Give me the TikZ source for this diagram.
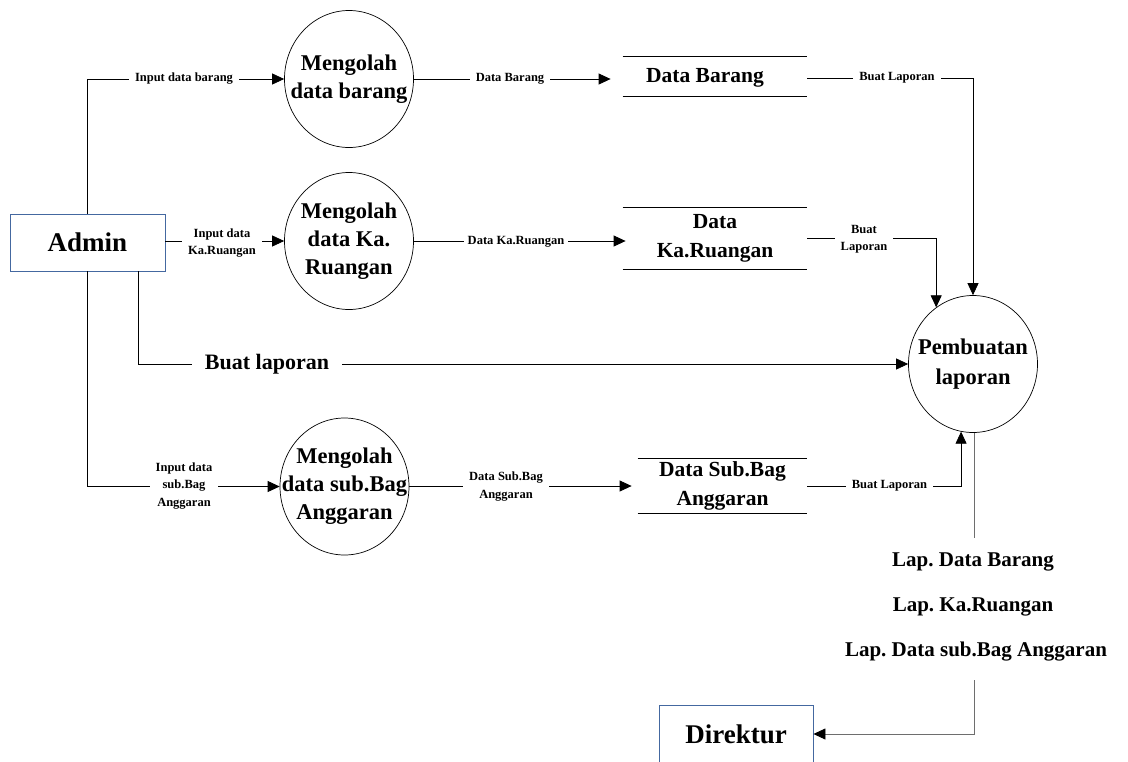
\documentclass[tikz,border=0pt]{standalone}
\usepackage{fontspec}
\setmainfont{Liberation Serif}
\usetikzlibrary{arrows.meta,shapes.geometric,calc}
\definecolor{boxblue}{RGB}{68,104,160}
\definecolor{lineg}{RGB}{110,110,110}
\frenchspacing
\begin{document}
\begin{tikzpicture}[x=1pt,y=-1pt,
  line width=0.8pt,
  flow/.style={draw=black,line width=0.8pt,-{Triangle[length=12pt,width=11pt,color=black]}},
  plain/.style={draw=black,line width=0.8pt},
  entity/.style={draw=boxblue,line width=0.9pt,minimum width=155pt,minimum height=57pt,inner sep=0pt,font=\fontsize{27}{30}\selectfont\bfseries},
  proc/.style={draw=black,line width=0.7pt,ellipse,minimum width=129pt,minimum height=137pt,inner sep=0pt},
  proctext/.style={align=center,inner sep=0pt,font=\fontsize{22.5}{28}\selectfont\bfseries},
  store/.style={inner sep=0pt,align=center,minimum width=184pt,font=\fontsize{21.5}{29}\selectfont\bfseries},
  lbl/.style={fill=white,inner xsep=6pt,inner ysep=1pt,align=center,font=\fontsize{12.5}{17.5}\selectfont\bfseries},
  biglbl/.style={fill=white,inner xsep=13pt,inner ysep=1pt,align=center,font=\fontsize{22}{28}\selectfont\bfseries},
  laplbl/.style={inner sep=0pt,font=\fontsize{21}{26}\selectfont\bfseries}
]
\useasboundingbox (0,0) rectangle (1128,761);

% entities
\node[entity] (admin) at (87.5,242.5) {Admin};
\node[entity,minimum width=154pt] (direktur) at (736,734) {Direktur};

% processes
\node[proc] (p1) at (349,79) {};
\node[proctext] (t1) at (p1) {Mengolah\\data barang};
\node[proc] (p2) at (349,241) {};
\node[proctext] (t2) at (p2) {Mengolah\\data Ka.\\Ruangan};
\node[proc] (p3) at (344.5,486.5) {};
\node[proctext] (t3) at (p3) {Mengolah\\data sub.Bag\\Anggaran};
\node[proc] (p4) at (973,364) {};
\node[proctext,font=\fontsize{22.5}{30}\selectfont\bfseries] (t4) at (p4) {Pembuatan\\laporan};

% data stores
\node[store,minimum height=39pt] (d1) at (715,76.5) {};
\node[store] (d1t) at (705,78) {Data Barang};
\node[store,minimum height=61pt] (d2) at (715,238.5) {Data\\Ka.Ruangan};
\node[store,minimum width=169pt,minimum height=54pt] (d3) at (722.5,486) {Data Sub.Bag\\Anggaran};
\foreach \d in {d1,d2,d3}{
  \draw[plain] (\d.north west) -- (\d.north east);
  \draw[plain] (\d.south west) -- (\d.south east);
}

% connectors admin -> processes
\draw[flow] (admin.north) |- (p1.west);
\draw[flow] (admin.east |- p2.west) -- (p2.west);
\draw[flow] (admin.south) |- (p3.west);
\draw[flow] ([xshift=50.5pt]admin.south) |- (p4.west);

% processes -> stores
\draw[flow,shorten >=12pt] (p1.east) -- (p1.east -| d1.west);
\draw[flow,shorten >=-3pt] (p2.east) -- (p2.east -| d2.west);
\draw[flow,shorten >=6pt] (p3.east |- d3.west) -- (d3.west);

% stores -> Pembuatan laporan
\draw[flow] ([yshift=-1.5pt]d1.east) -| (p4.north);
\draw[flow] (d2.east) -| (p4.123.4);
\draw[flow] (d3.east) -| (p4.260);

% Pembuatan laporan -> Direktur
\coordinate (ca) at (974,538);
\coordinate (cb) at (974,680);
\draw[draw=lineg,line width=0.8pt] (p4.south -| ca) -- (ca);
\draw[flow,draw=lineg] (cb) |- (direktur.east);

% labels
\node[lbl] (l1) at (184,79) {Input data barang};
\node[lbl] (l2) at (222,243) {Input data\\Ka.Ruangan};
\node[lbl] (l3) at (184,486) {Input data\\sub.Bag\\Anggaran};
\node[biglbl] (l4) at (267,364) {Buat laporan};
\node[lbl] (l5) at (510,79) {Data Barang};
\node[lbl,inner xsep=4pt] (l6) at (516,242) {Data Ka.Ruangan};
\node[lbl] (l7) at (506,486.5) {Data Sub.Bag\\Anggaran};
\node[lbl] (l8) at (897,78) {Buat Laporan};
\node[lbl] (l9) at (864,239) {Buat\\Laporan};
\node[lbl] (l10) at (889.5,486) {Buat Laporan};
\node[laplbl] (m1) at (973,562) {Lap. Data Barang};
\node[laplbl] (m2) at (973,607) {Lap. Ka.Ruangan};
\node[laplbl] (m3) at (976,652) {Lap. Data sub.Bag Anggaran};
\end{tikzpicture}
\end{document}
